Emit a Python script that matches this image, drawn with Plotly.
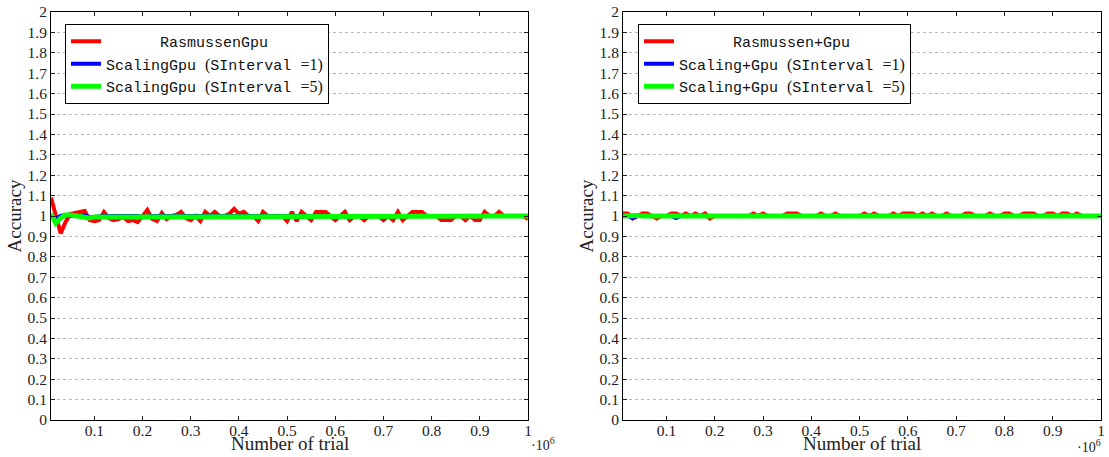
import plotly.graph_objects as go

# ---------------- data ----------------
trials = list(range(10000, 1000001, 10000))  # 0.01e6 ... 1.0e6

red_left = [
    1.09, 1.00, 0.915, 0.97, 1.01, 1.015, 1.02, 1.025, 0.98, 0.975,
    0.98, 1.02, 0.99, 0.98, 0.985, 0.995, 0.975, 0.98, 0.97, 1.00,
    1.03, 0.985, 0.975, 1.015, 0.985, 1.00, 1.005, 1.02, 0.99, 0.98,
    1.00, 0.975, 1.02, 1.00, 1.02, 1.00, 1.00, 1.01, 1.035, 1.01,
    1.02, 1.00, 1.00, 0.975, 1.02, 1.00, 1.00, 1.00, 1.00, 0.975,
    1.02, 0.975, 1.02, 1.00, 0.98, 1.02, 1.02, 1.02, 1.00, 0.98,
    1.00, 1.02, 0.98, 1.00, 1.00, 0.98, 1.00, 1.00, 1.00, 0.98,
    1.00, 0.98, 1.02, 0.98, 1.00, 1.02, 1.02, 1.02, 1.00, 1.00,
    1.00, 0.98, 0.98, 0.98, 1.00, 1.00, 0.98, 1.00, 0.98, 0.98,
    1.02, 1.00, 1.00, 1.02, 1.00, 1.00, 1.00, 1.00, 1.00, 0.985,
]
blue_left = [
    1.00, 0.985, 1.00, 1.005, 1.00, 1.00, 1.00, 1.005, 0.995, 0.995,
    1.00, 1.00, 1.00, 1.00, 1.00, 1.00, 1.00, 1.00, 1.00, 0.995,
    1.00, 1.00, 1.00, 1.00, 1.00, 1.00, 1.00, 1.00, 1.00, 1.00,
    1.00, 1.00, 1.00, 1.00, 1.00, 1.00, 1.00, 1.00, 1.00, 1.00,
    1.00, 1.00, 1.00, 1.00, 1.00, 1.00, 1.00, 1.00, 1.00, 1.00,
    1.00, 1.00, 1.00, 1.00, 1.00, 1.00, 1.00, 1.00, 1.00, 1.00,
    1.00, 1.00, 1.00, 1.00, 1.00, 1.00, 1.00, 1.00, 1.00, 1.00,
    1.00, 1.00, 1.00, 1.00, 1.00, 1.00, 1.00, 1.00, 1.00, 1.00,
    1.00, 1.00, 1.00, 1.00, 1.00, 1.00, 1.00, 1.00, 1.00, 1.00,
    1.00, 1.00, 1.00, 1.00, 1.00, 1.00, 1.00, 1.00, 1.00, 1.00,
]
green_left = [
    1.012, 0.965, 0.99, 1.005, 1.005, 1.00, 1.00, 0.99, 0.99, 0.995,
    0.995, 1.00, 1.00, 1.00, 1.00, 1.00, 1.00, 1.00, 1.00, 1.00,
    1.00, 1.00, 1.00, 1.00, 1.00, 1.00, 1.00, 1.00, 1.00, 1.00,
    1.00, 1.00, 1.00, 1.00, 1.00, 1.00, 1.00, 1.00, 1.00, 1.00,
    1.00, 1.00, 1.00, 1.00, 1.00, 1.00, 1.00, 1.00, 1.00, 1.00,
    1.00, 1.00, 1.00, 1.00, 1.00, 1.00, 1.00, 1.00, 1.00, 1.00,
    1.00, 1.00, 1.00, 1.00, 1.00, 1.00, 1.00, 1.00, 1.00, 1.00,
    1.00, 1.00, 1.00, 1.00, 1.00, 1.00, 1.00, 1.00, 1.00, 1.00,
    1.00, 1.00, 1.00, 1.00, 1.00, 1.00, 1.00, 1.00, 1.00, 1.00,
    1.00, 1.00, 1.00, 1.00, 1.00, 1.00, 1.00, 1.00, 1.00, 1.00,
]

red_right = [
    1.012, 1.012, 0.988, 1.00, 1.012, 1.012, 1.00, 0.988, 1.00, 1.00,
    1.012, 1.012, 1.00, 1.012, 1.00, 1.012, 1.00, 1.012, 0.988, 1.00,
    1.00, 1.00, 1.00, 1.00, 1.00, 1.00, 1.00, 1.012, 1.00, 1.012,
    1.00, 1.00, 1.00, 1.00, 1.012, 1.012, 1.012, 1.00, 1.00, 1.00,
    1.00, 1.012, 1.00, 1.00, 1.012, 1.00, 1.00, 1.00, 1.00, 1.00,
    1.012, 1.00, 1.012, 1.00, 1.00, 1.00, 1.012, 1.00, 1.012, 1.012,
    1.012, 1.00, 1.012, 1.00, 1.012, 1.00, 1.00, 1.012, 1.00, 1.00,
    1.00, 1.012, 1.012, 1.00, 1.00, 1.00, 1.012, 1.00, 1.00, 1.012,
    1.012, 1.00, 1.00, 1.012, 1.012, 1.012, 1.00, 1.00, 1.012, 1.012,
    1.00, 1.012, 1.012, 1.00, 1.012, 1.00, 1.00, 1.00, 1.00, 1.00,
]
blue_right = [
    1.00, 1.00, 0.99, 1.00, 1.00, 1.00, 1.00, 1.00, 1.00, 1.00,
    1.00, 0.99, 1.00, 1.00, 1.00, 1.00, 1.00, 1.00, 1.00, 1.00,
    1.00, 1.00, 1.00, 1.00, 1.00, 1.00, 1.00, 1.00, 1.00, 1.00,
    1.00, 1.00, 1.00, 1.00, 1.00, 1.00, 1.00, 1.00, 1.00, 1.00,
    1.00, 1.00, 1.00, 1.00, 1.00, 1.00, 1.00, 1.00, 1.00, 1.00,
    1.00, 1.00, 1.00, 1.00, 1.00, 1.00, 1.00, 1.00, 1.00, 1.00,
    1.00, 1.00, 1.00, 1.00, 1.00, 1.00, 1.00, 1.00, 1.00, 1.00,
    1.00, 1.00, 1.00, 1.00, 1.00, 1.00, 1.00, 1.00, 1.00, 1.00,
    1.00, 1.00, 1.00, 1.00, 1.00, 1.00, 1.00, 1.00, 1.00, 1.00,
    1.00, 1.00, 1.00, 1.00, 1.00, 1.00, 1.00, 1.00, 1.00, 1.00,
]
green_right = [
    1.00, 1.003, 1.003, 1.003, 1.00, 1.00, 1.00, 1.00, 1.00, 1.00,
    1.00, 1.00, 1.00, 1.00, 1.00, 1.00, 1.00, 1.00, 1.00, 1.00,
    1.00, 1.00, 1.00, 1.00, 1.00, 1.00, 1.00, 1.00, 1.00, 1.00,
    1.00, 1.00, 1.00, 1.00, 1.00, 1.00, 1.00, 1.00, 1.00, 1.00,
    1.00, 1.00, 1.00, 1.00, 1.00, 1.00, 1.00, 1.00, 1.00, 1.00,
    1.00, 1.00, 1.00, 1.00, 1.00, 1.00, 1.00, 1.00, 1.00, 1.00,
    1.00, 1.00, 1.00, 1.00, 1.00, 1.00, 1.00, 1.00, 1.00, 1.00,
    1.00, 1.00, 1.00, 1.00, 1.00, 1.00, 1.00, 1.00, 1.00, 1.00,
    1.00, 1.00, 1.00, 1.00, 1.00, 1.00, 1.00, 1.00, 1.00, 1.00,
    1.00, 1.00, 1.00, 1.00, 1.00, 1.00, 1.00, 1.00, 1.00, 1.00,
]

x_tick_vals = [100000, 200000, 300000, 400000, 500000, 600000, 700000, 800000, 900000, 1000000]
x_tick_text = ["0.1", "0.2", "0.3", "0.4", "0.5", "0.6", "0.7", "0.8", "0.9", "1"]
y_tick_vals = [i / 10 for i in range(0, 21)]
y_tick_text = ["0", "0.1", "0.2", "0.3", "0.4", "0.5", "0.6", "0.7", "0.8", "0.9", "1",
               "1.1", "1.2", "1.3", "1.4", "1.5", "1.6", "1.7", "1.8", "1.9", "2"]

SERIF = "Liberation Serif"
MONO = "Liberation Mono"


def ser(t):
    return '<span style="font-family:Liberation Serif;font-size:16px">' + t + '</span>'


names_left = [
    "\u00a0" * 6 + "RasmussenGpu",
    "ScalingGpu " + ser("(") + "SInterval " + ser("=1)"),
    "ScalingGpu " + ser("(") + "SInterval " + ser("=5)"),
]
names_right = [
    "\u00a0" * 6 + "Rasmussen+Gpu",
    "Scaling+Gpu " + ser("(") + "SInterval " + ser("=1)"),
    "Scaling+Gpu " + ser("(") + "SInterval " + ser("=5)"),
]

colors = ["#ff0000", "#0000ff", "#00ff00"]
widths = [4, 4, 5]

fig = go.Figure()
panels = [
    ([red_left, blue_left, green_left], names_left, "x", "y", "legend"),
    ([red_right, blue_right, green_right], names_right, "x2", "y2", "legend2"),
]
for series, names, xa, ya, leg in panels:
    for vals, nm, col, w in zip(series, names, colors, widths):
        fig.add_trace(go.Scatter(
            x=trials, y=vals, mode="lines", name=nm,
            line=dict(color=col, width=w),
            xaxis=xa, yaxis=ya, legend=leg,
        ))

L, R, T, B = 51, 8, 12, 37
W, H = 1109, 457
pw = W - L - R
ph = H - T - B


def xaxis(domain, anchor):
    return dict(
        domain=domain, anchor=anchor, range=[10000, 1000000],
        tickmode="array", tickvals=x_tick_vals, ticktext=x_tick_text,
        ticks="inside", ticklen=4, tickwidth=1, tickcolor="#222",
        showline=True, linecolor="black", linewidth=1, mirror="allticks",
        showgrid=False, zeroline=False, automargin=False,
        ticklabelstandoff=-4,
        tickfont=dict(family=SERIF, size=15.5, color="#222"),
    )


def yaxis(anchor):
    return dict(
        domain=[0, 1], anchor=anchor, range=[0, 2],
        tickmode="array", tickvals=y_tick_vals, ticktext=y_tick_text,
        ticks="inside", ticklen=4, tickwidth=1, tickcolor="#222",
        showline=True, linecolor="black", linewidth=1, mirror="allticks",
        showgrid=True, gridcolor="#b8b8b8", gridwidth=1, griddash="3px,3px",
        zeroline=False, automargin=False,
        tickfont=dict(family=SERIF, size=15.5, color="#222"),
        title=dict(text="Accuracy", font=dict(family=SERIF, size=19, color="#222"), standoff=0),
    )


left_dom = [0, 477 / pw]
right_dom = [572 / pw, 1.0]


def legend(xpix):
    return dict(
        x=(xpix - L) / pw, y=1 - (24 - T) / ph, xanchor="left", yanchor="top",
        bgcolor="white", bordercolor="black", borderwidth=1,
        font=dict(family=MONO, size=15, color="#111"),
        itemwidth=30, tracegroupgap=0, traceorder="normal",
    )


title_font = dict(family=SERIF, size=19, color="#222")
exp_font = dict(family=SERIF, size=14, color="#222")

fig.update_layout(
    width=W, height=H, margin=dict(l=L, r=R, t=T, b=B),
    paper_bgcolor="white", plot_bgcolor="white",
    xaxis=xaxis(left_dom, "y"), yaxis=yaxis("x"),
    xaxis2=xaxis(right_dom, "y2"), yaxis2=yaxis("x2"),
    legend=legend(65), legend2=legend(638),
    showlegend=True,
    annotations=[
        dict(text="Number of trial", xref="x domain", yref="y domain", x=0.5, y=0,
             xanchor="center", yanchor="middle", yshift=-23, showarrow=False, font=title_font),
        dict(text="Number of trial", xref="x2 domain", yref="y2 domain", x=0.5, y=0,
             xanchor="center", yanchor="middle", yshift=-23, showarrow=False, font=title_font),
        dict(text="·10<sup>6</sup>", xref="x domain", yref="y domain", x=1, y=0,
             xanchor="left", yanchor="top", xshift=1, yshift=-13, showarrow=False, font=exp_font),
        dict(text="·10<sup>6</sup>", xref="x2 domain", yref="y2 domain", x=1, y=0,
             xanchor="right", yanchor="top", xshift=2, yshift=-15, showarrow=False, font=exp_font),
    ],
)

fig.write_html("out.html")
